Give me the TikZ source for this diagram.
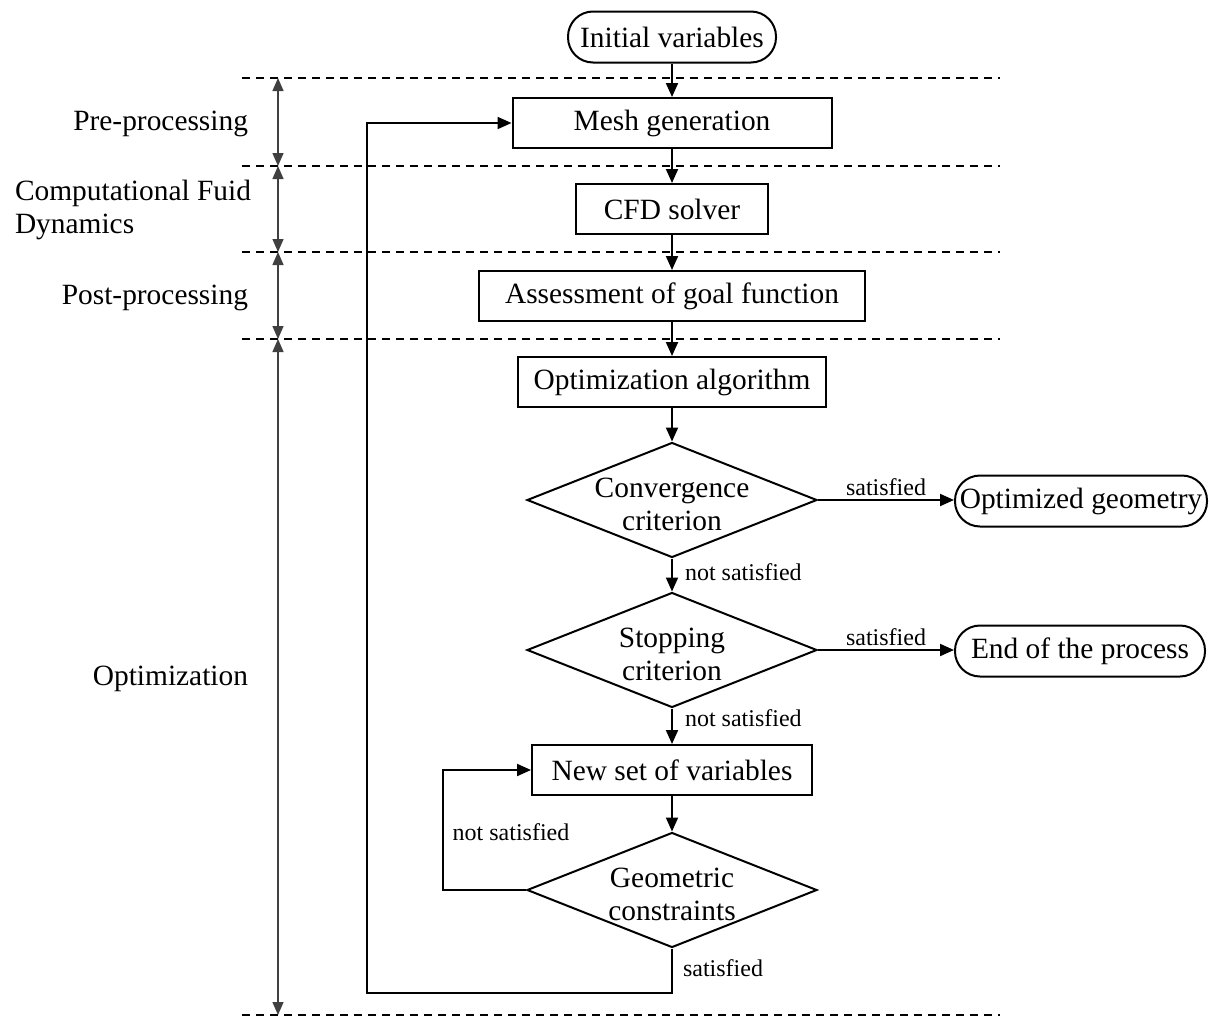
\documentclass[tikz,border=0pt]{standalone}
\usepackage{fontspec}
\setmainfont{Liberation Serif}
\usetikzlibrary{shapes.geometric,arrows.meta}
\begin{document}
\begin{tikzpicture}[x=0.5pt,y=-0.5pt,
  font=\fontsize{14.7}{16.5}\selectfont,
  line width=1pt,
  box/.style={draw, rectangle, inner sep=0pt, minimum height=25pt},
  term/.style={draw, rectangle, rounded corners=12.5pt, inner sep=0pt, minimum height=25.5pt},
  dec/.style={draw, diamond, inner sep=0pt, minimum width=145pt, minimum height=57.5pt},
  dectext/.style={align=center, inner sep=0pt, yshift=-2pt, font=\fontsize{14.7}{16.5}\selectfont},
  flow/.style={-{Triangle[length=7pt,width=6pt]}},
  sep/.style={line width=0.6pt, dash pattern=on 4pt off 3pt},
  dim/.style={{Triangle[length=6.5pt,width=5.5pt]}-{Triangle[length=6.5pt,width=5.5pt]}, line width=0.7pt, draw=black!75},
  lbl/.style={font=\fontsize{12}{14}\selectfont, inner sep=0pt},
  side/.style={inner sep=0pt, anchor=east}]
\useasboundingbox (0,0) rectangle (1209,1017);

% separators
\foreach \yy in {78,166,252,339,1015} {\draw[sep] (242,\yy) -- (1000,\yy);}

% dimension markers
\coordinate (d0) at (278,78);
\coordinate (d1) at (278,166);
\coordinate (d2) at (278,252);
\coordinate (d3) at (278,339);
\coordinate (d4) at (278,1015);
\draw[dim] (d0) -- (d1);
\draw[dim] (d1) -- (d2);
\draw[dim] (d2) -- (d3);
\draw[dim] (d3) -- (d4);

% side labels
\node[side] (lpre) at (249,124) {Pre-processing};
\node[inner sep=0pt, anchor=west, align=left] (lcfd) at (14,210) {Computational Fuid\\Dynamics};
\node[side] (lpost) at (249,298) {Post-processing};
\node[side] (lopt) at (249,679) {Optimization};

% main nodes
\node[term, minimum width=104pt] (init) at (672,37) {Initial variables};
\node[box, minimum width=159.5pt] (mesh) at (672,123) {Mesh generation};
\node[box, minimum width=96pt] (cfd) at (672,209) {CFD solver};
\node[box, minimum width=193pt] (assess) at (672,296) {Assessment of goal function};
\node[box, minimum width=154pt] (optalg) at (672,382) {Optimization algorithm};
\node[dec, label={[dectext]center:Convergence\\criterion}] (conv) at (672,500) {};
\node[term, minimum width=126pt] (optgeo) at (1081,501) {Optimized geometry};
\node[dec, label={[dectext]center:Stopping\\criterion}] (stop) at (672,650) {};
\node[term, minimum width=125pt] (endp) at (1080,651) {End of the process};
\node[box, minimum width=140pt] (newset) at (672,770) {New set of variables};
\node[dec, label={[dectext]center:Geometric\\constraints}] (geo) at (672,890) {};

% connectors
\draw[flow] (init) -- (mesh);
\draw[flow] (mesh) -- (cfd);
\draw[flow] (cfd) -- (assess);
\draw[flow] (assess) -- (optalg);
\draw[flow] (optalg) -- (conv);
\draw[flow] (conv.east) -- node[lbl, above=1.5pt] {satisfied} (optgeo.west |- conv.east);
\draw[flow] (conv) -- node[lbl, anchor=west, pos=0.4, xshift=6pt] {not satisfied} (stop);
\draw[flow] (stop.east) -- node[lbl, above=1.5pt] {satisfied} (endp.west |- stop.east);
\draw[flow] (stop) -- node[lbl, anchor=west, pos=0.28, xshift=6pt] {not satisfied} (newset);
\draw[flow] (newset) -- (geo);
\coordinate (loopL) at (443,890);
\draw[flow] (geo.west) -- (loopL) |- (newset.west);
\node[lbl] (nsat3) at (511,832) {not satisfied};
\coordinate (loopB) at (367,993);
\draw[flow] (geo.south) |- (loopB) |- (mesh.west);
\node[lbl, anchor=west] (sat3) at (682,968) {satisfied};
\end{tikzpicture}
\end{document}
